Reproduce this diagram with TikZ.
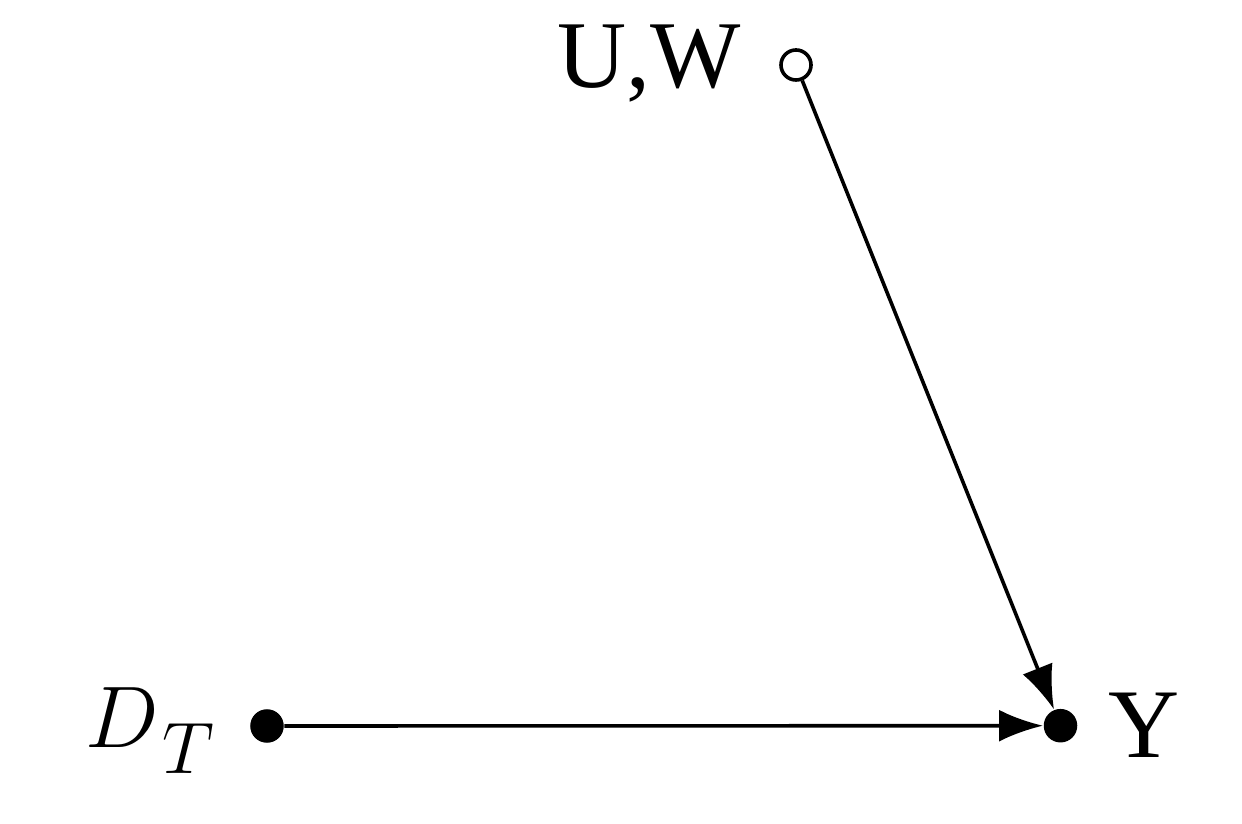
\documentclass[tikz,border=0pt]{standalone}
\usepackage{fontspec}
\newfontfamily\tms{Liberation Serif}
\usetikzlibrary{arrows.meta}
\begin{document}
\begin{tikzpicture}[x=0.01cm,y=0.01cm,
  filled/.style={circle,fill=black,inner sep=0pt,minimum size=0.335cm},
  open/.style={circle,draw=black,line width=0.036cm,fill=white,inner sep=0pt,minimum size=0.30cm},
  edge/.style={line width=0.036cm,-{Latex[length=0.44cm,width=0.32cm]},shorten >=0pt},
  lbl/.style={inner sep=0pt,font=\fontsize{28}{34}\selectfont\tms}]
\useasboundingbox (0,0) rectangle (1242,824);
\node[open] (uw) at (796,759) {};
\node[filled] (d) at (267,98) {};
\node[filled] (y) at (1060.5,98.3) {};
\draw[edge] (uw) -- (y);
\draw[edge] (d) -- (y);
\node[lbl,anchor=base east,font=\fontsize{27.2}{33}\selectfont\tms] (uwl) at (741,736) {U,W};
\node[lbl,anchor=base west] (yl) at (1108,67) {Y};
\node[inner sep=0pt,anchor=base west,font=\fontsize{24.4}{30}\selectfont] (dl) at (85,77)
  {$D$\kern1pt\raisebox{-7.4pt}{\fontsize{21.2}{24}\selectfont$T$}};
\end{tikzpicture}
\end{document}
